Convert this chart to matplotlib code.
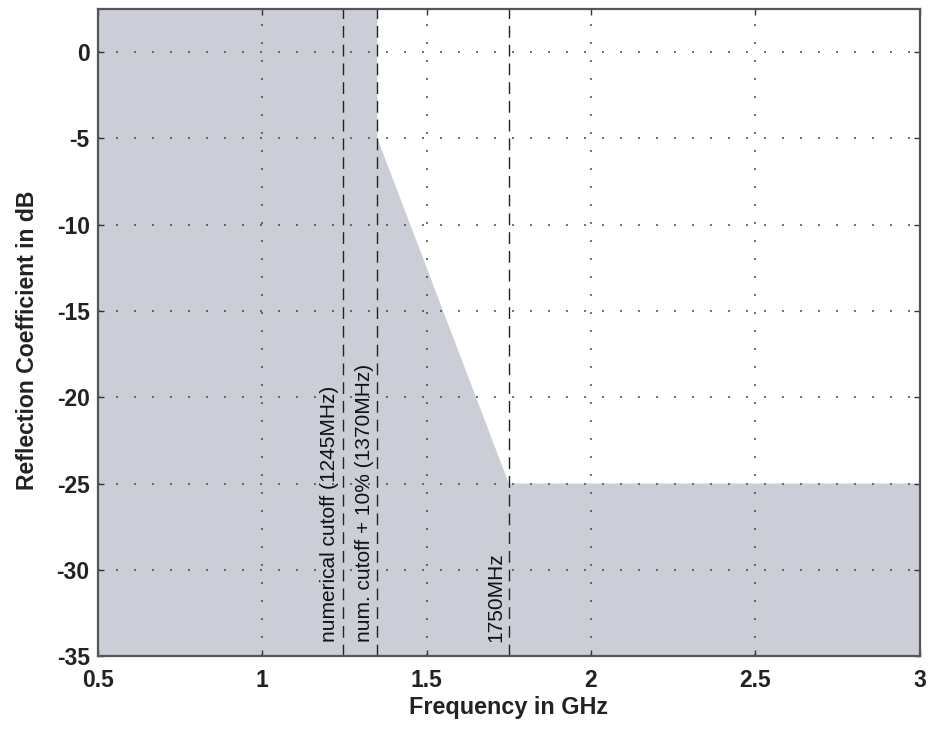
import matplotlib
matplotlib.use("Agg")
import matplotlib.pyplot as plt

plt.rcParams['font.family'] = ['Liberation Sans', 'DejaVu Sans']
plt.rcParams['axes.unicode_minus'] = False

# Mask (shaded region) boundary
mask_freq = [0.5, 1.35, 1.35, 1.75, 3.0]
mask_db = [2.5, 2.5, -5, -25, -25]

# Marker lines
marker_freq = [1.245, 1.35, 1.75]
marker_labels = ['numerical cutoff (1245MHz)', 'num. cutoff + 10% (1370MHz)', '1750MHz']

xticks = [0.5, 1, 1.5, 2, 2.5, 3]
xticklabels = ['0.5', '1', '1.5', '2', '2.5', '3']
yticks = [0, -5, -10, -15, -20, -25, -30, -35]

fig = plt.figure(figsize=(9.29, 7.29), dpi=100)
ax = fig.add_axes([0.1055, 0.100, 0.8845, 0.8877])

ax.fill_between(mask_freq, -40, mask_db, color='#cbced6', linewidth=0, zorder=1)

for xv in marker_freq:
    ax.axvline(xv, color='#222222', linewidth=1.0, linestyle=(0, (8.5, 5)), zorder=3)

for xv, lab in zip(marker_freq, marker_labels):
    ax.annotate(lab, xy=(xv, -34.2), xytext=(-2.5, 0), textcoords='offset points',
                rotation=90, ha='right', va='bottom', fontsize=15, color='#111111', zorder=4)

ax.set_xlim(0.5, 3.0)
ax.set_ylim(-35, 2.5)
ax.set_xticks(xticks)
ax.set_xticklabels(xticklabels)
ax.set_yticks(yticks)

ax.grid(True, color='#555555', linewidth=1.2, linestyle=(0, (1.2, 9.6)), zorder=2)
ax.set_axisbelow(False)

for sp in ax.spines.values():
    sp.set_color('#555555')
    sp.set_linewidth(1.6)
    sp.set_zorder(5)

ax.tick_params(direction='in', length=4, width=1, color='#333333',
               top=True, right=True, labelsize=16.5)
ax.tick_params(axis='x', pad=9)
ax.tick_params(axis='y', pad=6)
for t in ax.get_xticklabels() + ax.get_yticklabels():
    t.set_fontweight('bold')
    t.set_color('#222222')

ax.set_xlabel('Frequency in GHz', fontsize=16.8, fontweight='bold', color='#222222', labelpad=3)
ax.set_ylabel('Reflection Coefficient in dB', fontsize=16.6, fontweight='bold', color='#222222')
ax.yaxis.set_label_coords(-0.072, 0.488)

fig.savefig('out.png', dpi=100)
